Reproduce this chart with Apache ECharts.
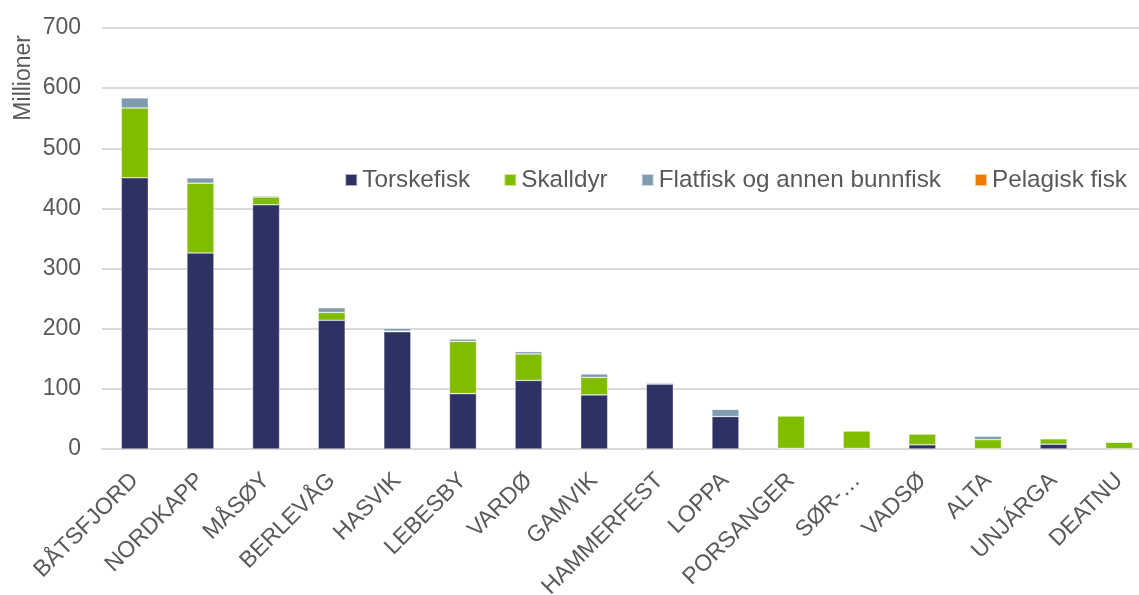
<!DOCTYPE html>
<html>
<head>
<meta charset="utf-8">
<script src="https://cdn.jsdelivr.net/npm/echarts@6/dist/echarts.min.js"></script>
<style>
  html, body { margin: 0; padding: 0; background: #fff; overflow: hidden; }
  #chart { width: 1152px; height: 595px; }
</style>
</head>
<body>
<div id="chart"></div>
<script>
const kommuner = ['BÅTSFJORD', 'NORDKAPP', 'MÅSØY', 'BERLEVÅG', 'HASVIK', 'LEBESBY', 'VARDØ', 'GAMVIK',
  'HAMMERFEST', 'LOPPA', 'PORSANGER', 'SØR-…', 'VADSØ', 'ALTA', 'UNJÁRGA', 'DEATNU']

const torskefisk = [451, 326, 406, 214, 195, 92, 114, 90, 108, 54, 1, 1, 7, 0.5, 8, 0.5]
const skalldyr = [116, 116, 13, 13, 1, 87, 44, 29, 0.5, 0, 54, 29, 18, 15, 9, 11]
const flatfisk = [17, 9, 2, 8, 5, 4, 4, 6, 2, 12, 0.5, 0.5, 0.5, 6, 0.5, 0]
const pelagisk = [0, 0, 0, 0, 0, 1, 0, 0, 0, 0, 0, 1, 0, 0, 1, 0]

const yTicks = [0, 100, 200, 300, 400, 500, 600, 700]

const textColor = '#595959'
const font = 'Liberation Sans, Arial, sans-serif'

function bar(name, data, color) {
    return {
        name: name,
        type: 'bar',
        stack: 'total',
        barWidth: 27,
        data: data,
        itemStyle: { color: color, borderColor: 'rgba(255,255,255,0.6)', borderWidth: 0.6 }
    }
}

const chart = echarts.init(document.getElementById('chart'))
chart.setOption({
    animation: false,
    backgroundColor: '#fff',
    textStyle: { fontFamily: font },
    grid: { left: 102, right: 0, top: 28, bottom: 146, outerBoundsMode: 'none', containLabel: false },
    legend: {
        top: 163,
        right: 20,
        itemWidth: 12,
        itemHeight: 12,
        itemGap: 33,
        icon: 'rect',
        textStyle: { color: textColor, fontSize: 24.3, fontFamily: font },
        data: ['Torskefisk', 'Skalldyr', 'Flatfisk og annen bunnfisk', 'Pelagisk fisk']
    },
    graphic: [{
        type: 'text',
        left: 12,
        top: 35,
        rotation: Math.PI / 2,
        style: { text: 'Millioner', fill: textColor, fontSize: 23, fontFamily: font }
    }],
    xAxis: {
        type: 'category',
        data: kommuner,
        axisLine: { lineStyle: { color: '#d9d9d9', width: 2 } },
        axisTick: { show: false },
        axisLabel: { rotate: 45, color: textColor, fontSize: 23, interval: 0, margin: 28, fontFamily: font }
    },
    yAxis: {
        type: 'value',
        min: yTicks[0],
        max: yTicks[yTicks.length - 1],
        interval: 100,
        axisLine: { show: false },
        axisTick: { show: false },
        axisLabel: { color: textColor, fontSize: 23, margin: 21, fontFamily: font },
        splitLine: { lineStyle: { color: '#d9d9d9', width: 2 } }
    },
    series: [
        bar('Torskefisk', torskefisk, '#2e3164'),
        bar('Skalldyr', skalldyr, '#80bc00'),
        bar('Flatfisk og annen bunnfisk', flatfisk, '#7f9bb0'),
        bar('Pelagisk fisk', pelagisk, '#ed7b00')
    ]
})
</script>
</body>
</html>
